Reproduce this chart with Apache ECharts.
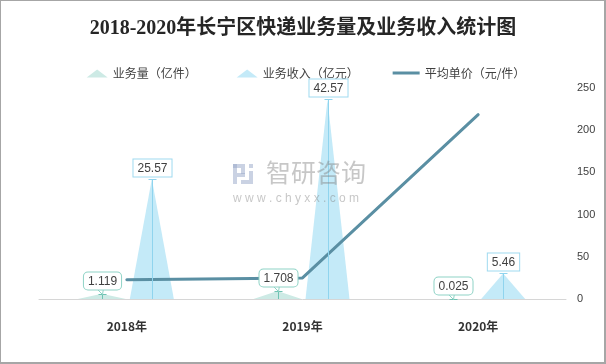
<!DOCTYPE html>
<html><head><meta charset="utf-8">
<script src="https://cdn.jsdelivr.net/npm/echarts@6/dist/echarts.min.js"></script>
<style>
html,body{margin:0;padding:0;background:#fff}
#wrap{position:relative;width:606px;height:364px}
#c{width:606px;height:364px}
#b{position:absolute;left:0;top:0;width:606px;height:364px;box-sizing:border-box;border-style:solid;border-color:#a6a6a6;border-width:1px 2px 2px 1px;pointer-events:none}
</style>
</head><body>
<div id="wrap"><div id="c"></div><div id="b"></div></div>
<script>
const titleText = '2018-2020年长宁区快递业务量及业务收入统计图';
const categories = ['2018年', '2019年', '2020年'];
const seriesNames = ['业务量（亿件）', '业务收入（亿元）', '平均单价（元/件）'];
const volume = [1.119, 1.708, 0.025];
const revenue = [25.57, 42.57, 5.46];
const unitPrice = [22.85, 24.92, 218.4];
const rightAxis = { min: 0, max: 250, interval: 50 };
const leftAxis = { min: 0, max: 45 };

const C_VOL = '#cdeae5', C_VOL_EDGE = '#8fd3c6';
const C_REV = '#c4eaf8', C_REV_EDGE = '#9fdaf0';
const C_LINE = '#5a8fa3';

function stemSeries(values, off, color, edge, radius, tail) {
  return {
    type: 'custom', name: 'stem', yAxisIndex: 0, z: 10, silent: true,
    data: values.map((v, i) => [i, v]),
    encode: { x: 0, y: 1 },
    renderItem: (params, api) => {
      const p0 = api.coord([api.value(0), 0]);
      const p1 = api.coord([api.value(0), api.value(1)]);
      const x = Math.round(p0[0] + off) + 0.5;
      const yt = Math.round(p1[1]) + 0.5;
      const children = [
        { type: 'line', shape: { x1: x, y1: p0[1], x2: x, y2: yt }, style: { stroke: color, lineWidth: 1 } },
        { type: 'line', shape: { x1: x - 4, y1: yt, x2: x + 4, y2: yt }, style: { stroke: color, lineWidth: 1 } }
      ];
      const by = yt - (tail ? 5 : 3);
      if (tail) {
        children.push({ type: 'polyline', z2: 1, shape: { points: [[x - 6, by - 1], [x, yt], [x + 1, by - 1]] },
          style: { stroke: edge, fill: '#fff', lineWidth: 1 } });
      }
      children.push({ type: 'text', z2: 2, x: x, y: by,
        style: { text: String(values[params.dataIndex]), align: 'center', verticalAlign: 'bottom',
          fontSize: 12, fontFamily: 'Liberation Sans', fill: '#404040',
          backgroundColor: '#fff', borderColor: edge, borderWidth: 1, borderRadius: radius,
          padding: [3, 4, 2, 4] } });
      return { type: 'group', children };
    }
  };
}

const wmFill = 'rgba(150,165,200,0.5)';
const wmText = 'rgba(130,130,130,0.45)';

const chart = echarts.init(document.getElementById('c'));
chart.setOption({
  backgroundColor: '#fff',
  animation: false,
  title: {
    text: titleText, left: 'center', top: 14,
    textStyle: { fontSize: 20, fontWeight: 'bold', color: '#262626', fontFamily: "'Liberation Serif','Noto Sans CJK SC'" }
  },
  legend: {
    top: 62, left: 'center', itemWidth: 27, itemHeight: 9, itemGap: 34,
    textStyle: { fontSize: 12, color: '#404040', fontFamily: 'Noto Sans CJK SC' },
    data: [
      { name: seriesNames[0], icon: 'path://M6,9 L16.5,1 L27,9 Z M0,0 L0,0' },
      { name: seriesNames[1], icon: 'path://M6,9 L16.5,1 L27,9 Z M0,0 L0,0' },
      { name: seriesNames[2], icon: 'path://M0,0 L0,0 M0,3 L27,3 L27,6 L0,6 Z M0,9 L0,9' }
    ]
  },
  grid: { left: 39, right: 40, top: 88, bottom: 65 },
  xAxis: {
    type: 'category', data: categories,
    axisLine: { lineStyle: { color: '#d6d6d6', width: 1 } },
    axisTick: { show: false },
    axisLabel: { margin: 21, fontSize: 12, fontWeight: 'bold', color: '#333', fontFamily: 'Noto Sans CJK SC' }
  },
  yAxis: [
    { type: 'value', show: false, min: leftAxis.min, max: leftAxis.max, splitLine: { show: false } },
    { type: 'value', position: 'right', min: rightAxis.min, max: rightAxis.max, interval: rightAxis.interval,
      axisLine: { show: false }, axisTick: { show: false }, splitLine: { show: false },
      axisLabel: { margin: 11, fontSize: 11, color: '#404040', fontFamily: 'Liberation Sans' } }
  ],
  series: [
    { type: 'pictorialBar', name: seriesNames[0], yAxisIndex: 0, data: volume,
      symbol: 'triangle', symbolSize: [48, '100%'], barWidth: 46, barGap: '8.7%', z: 2,
      itemStyle: { color: C_VOL } },
    { type: 'pictorialBar', name: seriesNames[1], yAxisIndex: 0, data: revenue,
      symbol: 'triangle', symbolSize: [44, '100%'], barWidth: 46, barGap: '8.7%', z: 2,
      itemStyle: { color: C_REV } },
    { type: 'line', name: seriesNames[2], yAxisIndex: 1, data: unitPrice, z: 5,
      symbol: 'none', lineStyle: { color: C_LINE, width: 3, cap: 'round', join: 'round' },
      itemStyle: { color: C_LINE } },
    stemSeries(volume, -25, '#6fc3b3', C_VOL_EDGE, 4, true),
    stemSeries(revenue, 25, '#8fd4ee', C_REV_EDGE, 0, false)
  ],
  graphic: [
    { type: 'rect', z: 100, silent: true, shape: { x: 233, y: 164, width: 12, height: 4 }, style: { fill: wmFill } },
    { type: 'rect', z: 100, silent: true, shape: { x: 233, y: 164, width: 4, height: 20 }, style: { fill: wmFill } },
    { type: 'rect', z: 100, silent: true, shape: { x: 241, y: 168, width: 4, height: 6 }, style: { fill: wmFill } },
    { type: 'rect', z: 100, silent: true, shape: { x: 237, y: 173, width: 8, height: 4 }, style: { fill: wmFill } },
    { type: 'rect', z: 100, silent: true, shape: { x: 249, y: 164, width: 4, height: 4 }, style: { fill: wmFill } },
    { type: 'rect', z: 100, silent: true, shape: { x: 249, y: 171, width: 4, height: 13 }, style: { fill: wmFill } },
    { type: 'rect', z: 100, silent: true, shape: { x: 241, y: 180, width: 8, height: 4 }, style: { fill: wmFill } },
    { type: 'text', z: 100, silent: true, x: 266, y: 160, style: { text: '智研咨询', fontSize: 25, fill: wmText, fontFamily: 'Noto Sans CJK SC' } },
    { type: 'text', z: 100, silent: true, x: 233, y: 193, style: { text: 'w w w . c h y x x . c o m', fontSize: 12, fill: wmText, fontFamily: 'Liberation Sans' } }
  ]
});
</script>
</body></html>
